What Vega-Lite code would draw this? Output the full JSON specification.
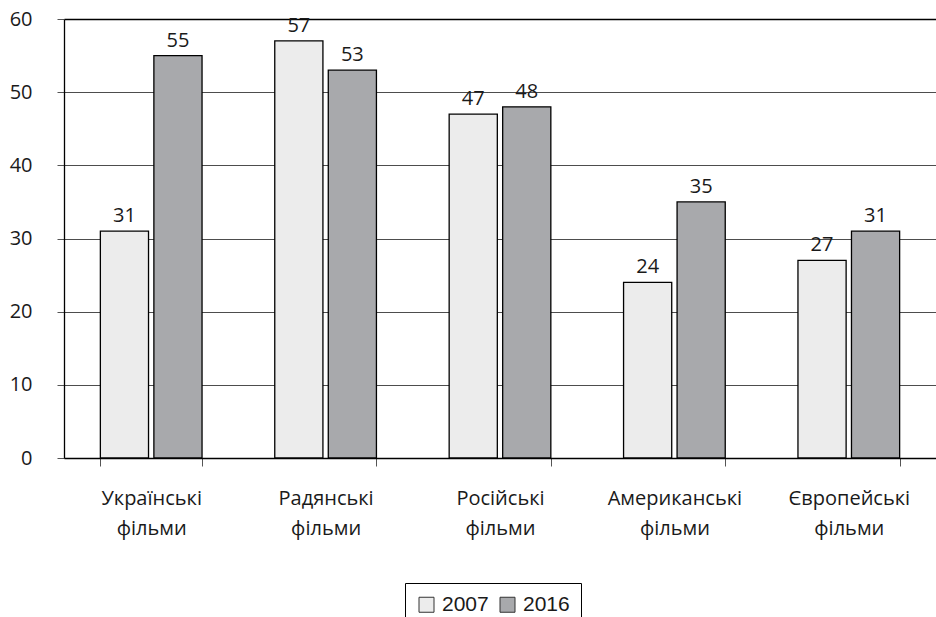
{
  "$schema": "https://vega.github.io/schema/vega-lite/v6.json",
  "width": 872,
  "height": 439,
  "autosize": {"type": "none"},
  "padding": {"left": 64, "top": 19, "right": 0, "bottom": 159},
  "background": "#ffffff",
  "config": {
    "font": "Open Sans",
    "view": {"stroke": null},
    "axis": {"labelColor": "#1a1a1a", "titleColor": "#1a1a1a"}
  },
  "data": {
    "values": [
      {"cat": "Українські фільми", "year": "2007", "value": 31},
      {"cat": "Українські фільми", "year": "2016", "value": 55},
      {"cat": "Радянські фільми", "year": "2007", "value": 57},
      {"cat": "Радянські фільми", "year": "2016", "value": 53},
      {"cat": "Російські фільми", "year": "2007", "value": 47},
      {"cat": "Російські фільми", "year": "2016", "value": 48},
      {"cat": "Американські фільми", "year": "2007", "value": 24},
      {"cat": "Американські фільми", "year": "2016", "value": 35},
      {"cat": "Європейські фільми", "year": "2007", "value": 27},
      {"cat": "Європейські фільми", "year": "2016", "value": 31}
    ]
  },
  "encoding": {
    "x": {
      "field": "cat",
      "type": "nominal",
      "sort": ["Українські фільми", "Радянські фільми", "Російські фільми", "Американські фільми", "Європейські фільми"],
      "scale": {"paddingInner": 0.417, "paddingOuter": 0.2085},
      "axis": {
        "title": null,
        "labelAngle": 0,
        "tickBand": "extent",
        "labelExpr": "split(datum.label, ' ')",
        "labelFontSize": 20,
        "labelLineHeight": 30,
        "labelPadding": 22,
        "tickSize": 8,
        "tickColor": "#555555",
        "domainColor": "#000000",
        "domainWidth": 1.3,
        "grid": false
      }
    },
    "xOffset": {"field": "year", "type": "nominal", "scale": {"paddingInner": 0.1}},
    "y": {
      "field": "value",
      "type": "quantitative",
      "scale": {"domain": [0, 60]},
      "axis": {
        "title": null,
        "values": [0, 10, 20, 30, 40, 50, 60],
        "labelFontSize": 20,
        "labelPadding": 25,
        "tickSize": 7,
        "tickColor": "#555555",
        "gridColor": {"condition": {"test": "datum.value === 60", "value": "#000000"}, "value": "#4d4d4d"},
        "gridWidth": {"condition": {"test": "datum.value === 60", "value": 1.3}, "value": 1},
        "domainColor": "#000000",
        "domainWidth": 1.3
      }
    }
  },
  "layer": [
    {
      "mark": {"type": "bar", "stroke": "#000000", "strokeWidth": 1.3},
      "encoding": {
        "color": {
          "field": "year",
          "type": "nominal",
          "scale": {"range": ["#ececec", "#a8a9ac"]},
          "legend": {
            "orient": "none",
            "legendX": 341,
            "legendY": 564,
            "direction": "horizontal",
            "title": null,
            "strokeColor": "#000000",
            "padding": 11,
            "symbolType": "square",
            "symbolSize": 225,
            "symbolStrokeColor": "#333333",
            "symbolStrokeWidth": 1,
            "labelFontSize": 21,
            "labelFont": "Liberation Sans",
            "labelColor": "#1a1a1a",
            "labelOffset": 5,
            "columnPadding": 8
          }
        }
      }
    },
    {
      "mark": {"type": "text", "baseline": "bottom", "dy": -5, "fontSize": 20, "color": "#1a1a1a"},
      "encoding": {"text": {"field": "value", "type": "quantitative"}}
    }
  ]
}
